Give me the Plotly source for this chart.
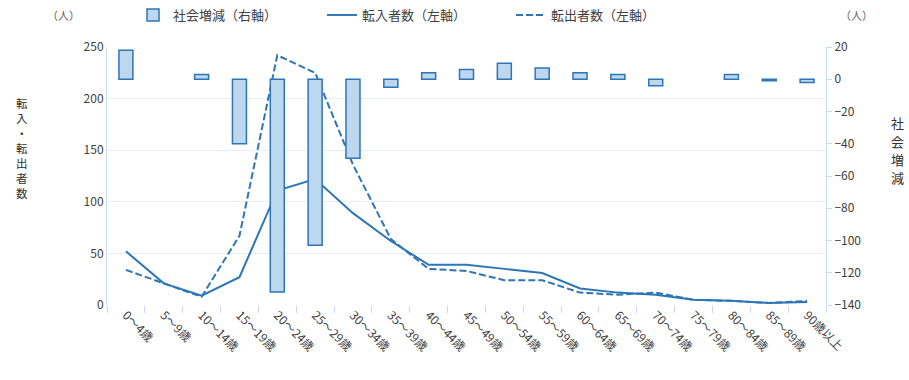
import plotly.graph_objects as go

categories = ["0～4歳", "5～9歳", "10～14歳", "15～19歳", "20～24歳", "25～29歳", "30～34歳",
              "35～39歳", "40～44歳", "45～49歳", "50～54歳", "55～59歳", "60～64歳", "65～69歳",
              "70～74歳", "75～79歳", "80～84歳", "85～89歳", "90歳以上"]
social_change = [18, 0, 3, -40, -132, -103, -49, -5, 4, 6, 10, 7, 4, 3, -4, 0, 3, -1, -2]
move_in = [52, 21, 9, 27, 111, 122, 89, 62, 39, 39, 35, 31, 16, 12, 10, 5, 4, 2, 3]
move_out = [34, 21, 8, 67, 242, 225, 136, 64, 35, 33, 24, 24, 12, 10, 12, 5, 4, 2, 4]
right_title = "社会増減"

BLUE = "#2e75b6"
FONT = "Noto Sans CJK JP"
PLOT_TOP, PLOT_BOTTOM = 47, 305

bar_line_widths = [0 if v == 0 else 1.5 for v in social_change]

fig = go.Figure()
fig.add_trace(go.Bar(
    x=categories, y=social_change, name="社会増減（右軸）", yaxis="y2",
    marker=dict(color="#bdd7ee", line=dict(color=BLUE, width=bar_line_widths)),
    width=0.37,
))
fig.add_trace(go.Scatter(
    x=categories, y=move_in, name="転入者数（左軸）", mode="lines",
    line=dict(color=BLUE, width=2),
))
fig.add_trace(go.Scatter(
    x=categories, y=move_out, name="転出者数（左軸）", mode="lines",
    line=dict(color=BLUE, width=2, dash="7px,3px"),
))

fig.update_layout(
    width=909, height=380,
    margin=dict(l=107, r=83, t=PLOT_TOP, b=380 - PLOT_BOTTOM, autoexpand=False),
    paper_bgcolor="white", plot_bgcolor="white",
    font=dict(family=FONT, size=12, color="#404040"),
    showlegend=True,
    legend=dict(orientation="h", xref="container", yref="container",
                x=133 / 909, xanchor="left", y=1 - 15 / 380, yanchor="middle",
                font=dict(size=13, color="#404040"), entrywidth=144,
                traceorder="normal", bgcolor="rgba(0,0,0,0)"),
    xaxis=dict(type="category", tickangle=45, tickson="boundaries",
               ticks="outside", ticklen=7, tickcolor="#c9daf0",
               showline=False, showgrid=False, zeroline=False, automargin=False,
               tickfont=dict(size=12, color="#404040")),
    yaxis=dict(range=[0, 250], dtick=50, showgrid=True, gridcolor="#e6eef8",
               showline=True, linecolor="#c9daf0", zeroline=False, automargin=False,
               ticks="", tickfont=dict(size=12, color="#404040")),
    yaxis2=dict(range=[-140, 20], dtick=20, overlaying="y", side="right",
                showgrid=False, zeroline=False, showline=True, linecolor="#c9daf0",
                ticks="outside", ticklen=5, tickcolor="#c9daf0", automargin=False,
                tickfont=dict(size=12, color="#404040")),
    bargap=0.6,
)

fig.add_annotation(text="転<br>入<br>・<br>転<br>出<br>者<br>数", xref="paper", yref="paper",
                   x=-0.118, y=0.61, xanchor="center", yanchor="middle", showarrow=False,
                   font=dict(size=11.5, color="#303030"))
# right axis title, one character per line (stacked vertically)
for i, ch in enumerate(right_title):
    ypx = 123 + 18 * i
    fig.add_annotation(text=ch, xref="paper", yref="paper",
                       x=1.1, y=(PLOT_BOTTOM - ypx) / (PLOT_BOTTOM - PLOT_TOP),
                       xanchor="center", yanchor="middle",
                       showarrow=False, font=dict(size=13, color="#303030"))
fig.add_annotation(text="（人）", xref="paper", yref="paper",
                   x=-0.06, y=1.124, xanchor="center", yanchor="middle", showarrow=False,
                   font=dict(size=11, color="#606060"))
fig.add_annotation(text="（人）", xref="paper", yref="paper",
                   x=1.043, y=1.124, xanchor="center", yanchor="middle", showarrow=False,
                   font=dict(size=11, color="#606060"))

fig.write_html("out.html", config={"displayModeBar": False},
               post_script="document.body.style.margin='0';")
